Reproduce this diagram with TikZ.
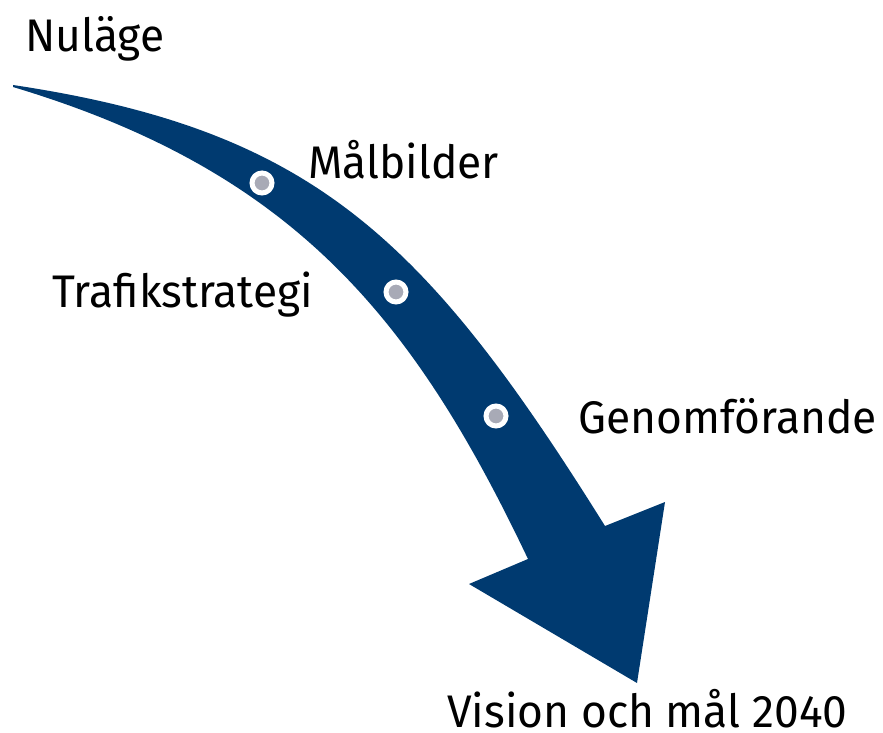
\documentclass[tikz,border=0pt]{standalone}
\usepackage{fontspec}
\setmainfont[FakeStretch=0.97]{Fira Sans}
\definecolor{navy}{HTML}{003A70}
\definecolor{dotgray}{HTML}{A8AAB6}

\begin{document}
\begin{tikzpicture}[x=0.02cm, y=-0.02cm,
    label/.style={anchor=base west, inner sep=0, font=\fontsize{26}{30}\selectfont},
    dot/.style={circle, fill=dotgray, draw=white, line width=0.1cm, minimum size=0.4cm, inner sep=0}]
    \useasboundingbox (0,0) rectangle (883,733);
    % the bent arrow
    \fill[navy] (13,85) .. controls (313,130) and (425,238) .. (605,526)
        -- (665,502) -- (637,683) -- (469,584) -- (528,559)
        .. controls (413,317) and (293,171) .. (13,87) -- cycle;
    % stations on the arrow
    \node[dot] (malb) at (262,183) {};
    \node[dot] (traf) at (396,292) {};
    \node[dot] (geno) at (496,416) {};
    % texts
    \node[label] (nulage) at (25,52) {Nuläge};
    \node[label] (malbtext) at (308,179) {Målbilder};
    \node[label] (traftext) at (52,308) {Trafikstrategi};
    \node[label] (genotext) at (578,434) {Genomförande};
    \node[label] (vision) at (447,727) {Vision och mål 2040};
\end{tikzpicture}
\end{document}
